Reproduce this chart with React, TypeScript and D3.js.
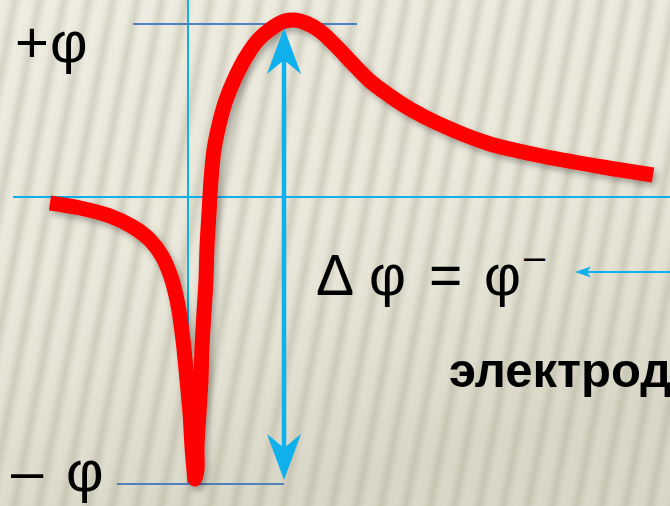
import React from "react";
import * as d3 from "d3";

// Potential curve: distance from the vertical axis vs potential (chart units)
const curveX = [-27.6, -21.6, -15.6, -11, -7.6, -5.2, -3.4, -2, -1, -0.2, 0.4, 0.8, 1.2, 1.4, 1.8, 1.8, 2.2, 2.6, 2.8, 3.2, 3.6, 3.8, 4.2, 4.6, 5.2, 6.2, 7.6, 9.4, 11.6, 14, 16.8, 19.4, 21.4, 23.6, 26.4, 29.8, 33, 36.4, 40.4, 44.4, 49.8, 59.8, 69.8, 83, 93];
const curveY = [-1.2, -2.2, -3.8, -6, -8.6, -11.8, -16, -21.6, -28.6, -36.6, -43.2, -50, -54.6, -56.4, -54.6, -50, -43.2, -36.6, -30, -23.2, -16.6, -10, -3.2, 3.4, 9.4, 14.4, 19.4, 23.8, 28, 31.4, 33.8, 35.2, 35.4, 34.8, 33.2, 30, 26.6, 23.2, 20.2, 17.6, 14.8, 10.8, 8.4, 6, 4.4];

// axis domains
const xDomain = [-35, 96.4];
const yDomain = [-57.4, 34.6];

// labels
const plusParts = ["+", "φ"];
const minusParts = ["–", "φ"];
const formulaParts = ["Δ", "φ", "=", "φ", "–"];
const electrodeLabel = "электрод";

export default function App() {
  const W = 670, H = 506;
  const x = d3.scaleLinear().domain(xDomain).range([13, 670]);
  const y = d3.scaleLinear().domain(yDomain).range([484, 24]);
  const pts: [number, number][] = curveX.map((v, i) => [v, curveY[i]]);
  const line = d3.line<[number, number]>()
    .x(d => x(d[0]))
    .y(d => y(d[1]))
    .curve(d3.curveCatmullRom.alpha(0.5));

  const blue = "#0fb0ec";
  const steel = "#4f81bd";
  const arrowX = x(19.2);
  const topY = y(yDomain[1]);
  const botY = y(yDomain[0]);
  const axisY = y(0);
  const axisX = x(0);
  const font = "'Liberation Sans', Arial, sans-serif";

  const tipTop = topY + 4;
  const tipBot = botY - 4;
  const headLen = 46, headHalf = 17, notch = 14;

  return (
    <svg width={W} height={H} style={{ position: "absolute", left: 0, top: 0 }}>
      <defs>
        <linearGradient id="stripeGrad" x1="0" x2="1" y1="0" y2="0">
          <stop offset="0" stopColor="#edecdf" />
          <stop offset="0.3" stopColor="#ebe9dc" />
          <stop offset="0.62" stopColor="#d2d0c0" />
          <stop offset="0.88" stopColor="#e8e6d9" />
          <stop offset="1" stopColor="#edecdf" />
        </linearGradient>
        <pattern id="stripes" width="24" height="40" patternUnits="userSpaceOnUse" patternTransform="rotate(11)">
          <rect width="24" height="40" fill="url(#stripeGrad)" />
        </pattern>
        <linearGradient id="shade" x1="0" x2="0.3" y1="0" y2="1">
          <stop offset="0" stopColor="#ffffff" stopOpacity="0.12" />
          <stop offset="0.5" stopColor="#bdbaa4" stopOpacity="0.05" />
          <stop offset="1" stopColor="#a9a68e" stopOpacity="0.28" />
        </linearGradient>
        <filter id="shadow" x="-10%" y="-10%" width="130%" height="130%">
          <feDropShadow dx="3" dy="4" stdDeviation="3" floodColor="#000" floodOpacity="0.3" />
        </filter>
      </defs>
      <rect width={W} height={H} fill="url(#stripes)" />
      <rect width={W} height={H} fill="url(#shade)" />

      {/* axes */}
      <line x1={13} x2={670} y1={axisY} y2={axisY} stroke={blue} strokeWidth={2} />
      <line x1={axisX} x2={axisX} y1={0} y2={botY} stroke={blue} strokeWidth={2} />
      <line x1={133} x2={357} y1={topY} y2={topY} stroke={steel} strokeWidth={1.8} />
      <line x1={117} x2={arrowX} y1={botY} y2={botY} stroke={steel} strokeWidth={2} />

      {/* red curve */}
      <path d={line(pts) || ""} fill="none" stroke="#ff0000" strokeWidth={15} strokeLinejoin="round" filter="url(#shadow)" />

      {/* double arrow */}
      <line x1={arrowX} x2={arrowX} y1={tipTop + headLen - notch} y2={tipBot - headLen + notch} stroke={blue} strokeWidth={4.5} />
      <path d={`M${arrowX},${tipTop} L${arrowX + headHalf},${tipTop + headLen} L${arrowX},${tipTop + headLen - notch} L${arrowX - headHalf},${tipTop + headLen} Z`} fill={blue} />
      <path d={`M${arrowX},${tipBot} L${arrowX + headHalf},${tipBot - headLen} L${arrowX},${tipBot - headLen + notch} L${arrowX - headHalf},${tipBot - headLen} Z`} fill={blue} />

      {/* small left arrow */}
      <line x1={670} x2={585} y1={272} y2={272} stroke={blue} strokeWidth={1.8} />
      <path d="M575,272 L591,266.5 L587,272 L591,277.5 Z" fill={blue} />

      {/* labels */}
      <text y={62} fontFamily={font} fontSize={58} fill="#000">
        <tspan x={15}>{plusParts[0]}</tspan>
        <tspan x={50}>{plusParts[1]}</tspan>
      </text>
      <text y={491} fontFamily={font} fontSize={58} fill="#000">
        <tspan x={11}>{minusParts[0]}</tspan>
        <tspan x={66}>{minusParts[1]}</tspan>
      </text>
      <text y={295} fontFamily={font} fontSize={57} fill="#000">
        <tspan x={316}>{formulaParts[0]}</tspan>
        <tspan x={369}>{formulaParts[1]}</tspan>
        <tspan x={429}>{formulaParts[2]}</tspan>
        <tspan x={484}>{formulaParts[3]}</tspan>
        <tspan x={524} dy={-25} fontSize={38}>{formulaParts[4]}</tspan>
      </text>
      <text x={449} y={387} fontFamily={font} fontWeight="bold" fontSize={49} fill="#000">{electrodeLabel}</text>
    </svg>
  );
}
